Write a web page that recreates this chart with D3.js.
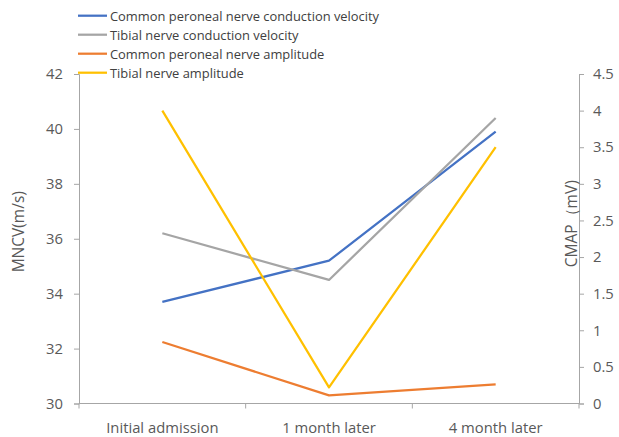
<!DOCTYPE html>
<html>
<head>
<meta charset="utf-8">
<script src="https://cdn.jsdelivr.net/npm/d3@7"></script>
<style>
  html, body { margin: 0; padding: 0; background: #fff; }
  svg { display: block; font-family: "Open Sans", "Noto Sans", sans-serif; }
</style>
</head>
<body>
<svg id="chart" width="619" height="437"></svg>
<script>
const categories = ["Initial admission", "1 month later", "4 month later"];
const peronealNCV = [33.7, 35.2, 39.9];
const tibialNCV = [36.2, 34.5, 40.4];
const peronealAmp = [0.84, 0.11, 0.26];
const tibialAmp = [4.0, 0.22, 3.5];
const leftTicks = [30, 32, 34, 36, 38, 40, 42];
const rightTicks = [0, 0.5, 1, 1.5, 2, 2.5, 3, 3.5, 4, 4.5];

const series = [
  { name: "Common peroneal nerve conduction velocity", values: peronealNCV, axis: "left", color: "#4472C4" },
  { name: "Tibial nerve conduction velocity", values: tibialNCV, axis: "left", color: "#A5A5A5" },
  { name: "Common peroneal nerve amplitude", values: peronealAmp, axis: "right", color: "#ED7D31" },
  { name: "Tibial nerve amplitude", values: tibialAmp, axis: "right", color: "#FFC000" }
];

const svg = d3.select("#chart");
const mLeft = 79, mRight = 579, mTop = 74, mBottom = 403.5;
const textColor = "#595959", axisColor = "#A6A6A6";
const fontFam = '"Open Sans", "Noto Sans", sans-serif';

const x = d3.scaleBand().domain(categories).range([mLeft, mRight]).padding(0);
const yL = d3.scaleLinear().domain([30, 42]).range([mBottom, mTop]);
const yR = d3.scaleLinear().domain([0, 4.5]).range([mBottom, mTop]);

const gL = svg.append("g").attr("transform", `translate(${mLeft},0)`)
  .call(d3.axisLeft(yL).tickValues(leftTicks).tickSize(5).tickPadding(11).tickFormat(d3.format("d")));
const gR = svg.append("g").attr("transform", `translate(${mRight},0)`)
  .call(d3.axisRight(yR).tickValues(rightTicks).tickSize(5).tickPadding(9).tickFormat(d => String(d)));
const gB = svg.append("g").attr("transform", `translate(0,${mBottom})`)
  .call(d3.axisBottom(x).tickSize(0).tickPadding(19));
[gL, gR, gB].forEach(g => {
  g.select(".domain").attr("stroke", axisColor).attr("stroke-width", 1);
  g.selectAll(".tick line").attr("stroke", axisColor);
  g.selectAll(".tick text").attr("fill", textColor).style("font-size", "14.8px")
    .style("font-family", fontFam);
});
gB.select(".domain").attr("d", `M${mLeft},0H${mRight}`);
const boundaries = [mLeft].concat(categories.map(c => x(c) + x.bandwidth()));
gB.selectAll(".sep").data(boundaries).enter().append("line")
  .attr("x1", d => d).attr("x2", d => d).attr("y1", 0).attr("y2", 5)
  .attr("stroke", axisColor);

svg.append("text")
  .attr("transform", `translate(24,${(mTop + mBottom) / 2 - 7}) rotate(-90)`)
  .attr("text-anchor", "middle").attr("fill", textColor).style("font-size", "15.5px")
  .text("MNCV(m/s)");
svg.append("text")
  .attr("transform", `translate(577,${(mTop + mBottom) / 2 - 15}) rotate(-90)`)
  .attr("text-anchor", "middle").attr("fill", textColor).style("font-size", "15.5px")
  .text("CMAP（mV)");

const line = (scale) => d3.line().x((d, i) => x(categories[i]) + x.bandwidth() / 2).y(d => scale(d));
svg.append("g").selectAll("path").data(series).enter().append("path")
  .attr("d", s => line(s.axis === "left" ? yL : yR)(s.values))
  .attr("fill", "none").attr("stroke", s => s.color).attr("stroke-width", 2.25)
  .attr("stroke-linejoin", "round");

const lg = svg.append("g").selectAll("g").data(series).enter().append("g")
  .attr("transform", (d, i) => `translate(78,${15.7 + i * 19})`);
lg.append("line").attr("x1", 0).attr("x2", 29).attr("y1", 0).attr("y2", 0)
  .attr("stroke", d => d.color).attr("stroke-width", 2.25);
lg.append("text").attr("x", 32).attr("y", 5.5).attr("fill", "#404040")
  .style("font-size", "12.9px").text(d => d.name);
</script>
</body>
</html>
